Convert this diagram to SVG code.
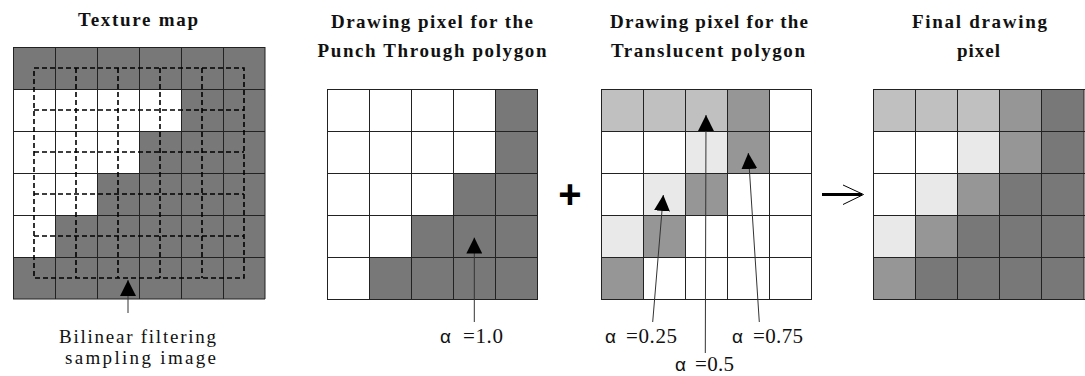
<svg xmlns="http://www.w3.org/2000/svg" width="1085" height="376" viewBox="0 0 1085 376">
<style>
.title{font-family:"Liberation Serif","Times New Roman","DejaVu Serif",serif;font-weight:bold;font-size:19px;fill:#111}
.lbl{font-family:"Liberation Serif","Times New Roman","DejaVu Serif",serif;font-size:19px;fill:#111}
.num{font-family:"Liberation Serif","Times New Roman","DejaVu Serif",serif;font-size:21px;fill:#111}
.alpha{font-family:"Liberation Sans",Arial,sans-serif;font-size:19px;fill:#111}
.plus{font-family:"Liberation Sans",Arial,sans-serif;font-weight:bold;font-size:40px;fill:#000}
.d{fill:#787878}.m{fill:#969696}.l{fill:#c0c0c0}.v{fill:#e9e9e9}.w{fill:#fff}
.grid{fill:none;stroke:#222;stroke-width:1}
.dash{fill:none;stroke:#000;stroke-width:1.6;stroke-dasharray:5 3}
.ptr{fill:none;stroke:#333;stroke-width:1}
</style>
<defs>
<marker id="tri" markerUnits="userSpaceOnUse" viewBox="0 0 16 16" refX="16" refY="8" markerWidth="16" markerHeight="16" orient="auto">
<path d="M0,0 L16,8 L0,16 Z" fill="#000"/>
</marker>
</defs>
<rect width="1085" height="376" fill="#fff"/>

<g id="texture-map">
<text class="title" x="78" y="26" textLength="120" lengthAdjust="spacing">Texture map</text>
<rect class="d" x="13" y="47" width="252" height="252"/>
<path class="w" d="M13,89 H181 V131 H139 V173 H97 V215 H55 V257 H13 Z"/>
<path class="grid" d="M13.5,47 V299 M55.5,47 V299 M97.5,47 V299 M139.5,47 V299 M181.5,47 V299 M223.5,47 V299 M265,47 V299 M13,47.5 H265 M13,89.5 H265 M13,131.5 H265 M13,173.5 H265 M13,215.5 H265 M13,257.5 H265 M13,299 H265"/>
<rect class="dash" x="34" y="68" width="210" height="210"/>
<path class="dash" d="M76,68 V278 M118,68 V278 M160,68 V278 M202,68 V278 M34,110 H244 M34,152 H244 M34,194 H244 M34,236 H244"/>
<text class="lbl" x="59" y="343" textLength="157" lengthAdjust="spacing">Bilinear filtering</text>
<text class="lbl" x="65" y="364" textLength="151" lengthAdjust="spacing">sampling image</text>
</g>

<g id="punch-through">
<text class="title" x="331" y="28" textLength="202" lengthAdjust="spacing">Drawing pixel for the</text>
<text class="title" x="317.5" y="57" textLength="229" lengthAdjust="spacing">Punch Through polygon</text>
<rect class="w" x="327" y="89" width="210" height="210"/>
<path class="d" d="M495,89 H537 V299 H369 V257 H411 V215 H453 V173 H495 Z"/>
<path class="grid" d="M327.5,89 V299 M369.5,89 V299 M411.5,89 V299 M453.5,89 V299 M495.5,89 V299 M537.5,89 V299 M327,89.5 H538 M327,131.5 H538 M327,173.5 H538 M327,215.5 H538 M327,257.5 H538 M327,299.5 H538"/>
<text x="440" y="343"><tspan class="alpha">α</tspan><tspan class="num" x="463" textLength="40" lengthAdjust="spacing">=1.0</tspan></text>
</g>

<g id="plus">
<text class="plus" x="570" y="208" text-anchor="middle">+</text>
</g>

<g id="translucent">
<text class="title" x="610" y="28" textLength="198" lengthAdjust="spacing">Drawing pixel for the</text>
<text class="title" x="611" y="57" textLength="194" lengthAdjust="spacing">Translucent polygon</text>
<rect class="w" x="601" y="89" width="210" height="210"/>
<rect class="l" x="601" y="89" width="42" height="42"/>
<rect class="l" x="643" y="89" width="42" height="42"/>
<rect class="l" x="685" y="89" width="42" height="42"/>
<rect class="m" x="727" y="89" width="42" height="42"/>
<rect class="v" x="685" y="131" width="42" height="42"/>
<rect class="m" x="727" y="131" width="42" height="42"/>
<rect class="v" x="643" y="173" width="42" height="42"/>
<rect class="m" x="685" y="173" width="42" height="42"/>
<rect class="v" x="601" y="215" width="42" height="42"/>
<rect class="m" x="643" y="215" width="42" height="42"/>
<rect class="m" x="601" y="257" width="42" height="42"/>
<path class="grid" d="M601.5,89 V299 M643.5,89 V299 M685.5,89 V299 M727.5,89 V299 M769.5,89 V299 M811.5,89 V299 M601,89.5 H812 M601,131.5 H812 M601,173.5 H812 M601,215.5 H812 M601,257.5 H812 M601,299.5 H812"/>
<text x="605" y="343"><tspan class="alpha">α</tspan><tspan class="num" x="626" textLength="51" lengthAdjust="spacing">=0.25</tspan></text>
<text x="675" y="371"><tspan class="alpha">α</tspan><tspan class="num" x="695" textLength="39" lengthAdjust="spacing">=0.5</tspan></text>
<text x="732" y="343"><tspan class="alpha">α</tspan><tspan class="num" x="753" textLength="50" lengthAdjust="spacing">=0.75</tspan></text>
</g>

<g id="final">
<text class="title" x="912" y="28" textLength="135" lengthAdjust="spacing">Final drawing</text>
<text class="title" x="957" y="57" textLength="43" lengthAdjust="spacing">pixel</text>
<rect class="d" x="873" y="89" width="211" height="210"/>
<rect class="l" x="873" y="89" width="42.2" height="42"/>
<rect class="l" x="915.2" y="89" width="42.2" height="42"/>
<rect class="l" x="957.4" y="89" width="42.2" height="42"/>
<rect class="m" x="999.6" y="89" width="42.2" height="42"/>
<rect class="w" x="873" y="131" width="84.4" height="42"/>
<rect class="v" x="957.4" y="131" width="42.2" height="42"/>
<rect class="m" x="999.6" y="131" width="42.2" height="42"/>
<rect class="w" x="873" y="173" width="42.2" height="42"/>
<rect class="v" x="915.2" y="173" width="42.2" height="42"/>
<rect class="m" x="957.4" y="173" width="42.2" height="42"/>
<rect class="v" x="873" y="215" width="42.2" height="42"/>
<rect class="m" x="915.2" y="215" width="42.2" height="42"/>
<rect class="m" x="873" y="257" width="42.2" height="42"/>
<path class="grid" d="M873.5,89 V299 M915.5,89 V299 M957.5,89 V299 M999.5,89 V299 M1041.5,89 V299 M1084,89 V299 M873,89.5 H1085 M873,131.5 H1085 M873,173.5 H1085 M873,215.5 H1085 M873,257.5 H1085 M873,299.5 H1085"/>
</g>

<g id="connectors">
<line class="ptr" x1="128" y1="313" x2="128" y2="280" marker-end="url(#tri)"/>
<line class="ptr" x1="474.3" y1="322" x2="474.3" y2="237.5" marker-end="url(#tri)"/>
<line class="ptr" x1="705.3" y1="353" x2="706" y2="115" marker-end="url(#tri)"/>
<line class="ptr" x1="652.7" y1="322" x2="663.3" y2="195" marker-end="url(#tri)"/>
<line class="ptr" x1="759.3" y1="322" x2="748.3" y2="153" marker-end="url(#tri)"/>
<path d="M822,194.5 H862" stroke="#000" stroke-width="2.8" fill="none"/>
<path d="M843,185 L863.5,194.5 L843,204.5" stroke="#000" stroke-width="1" fill="none"/>
</g>
</svg>
